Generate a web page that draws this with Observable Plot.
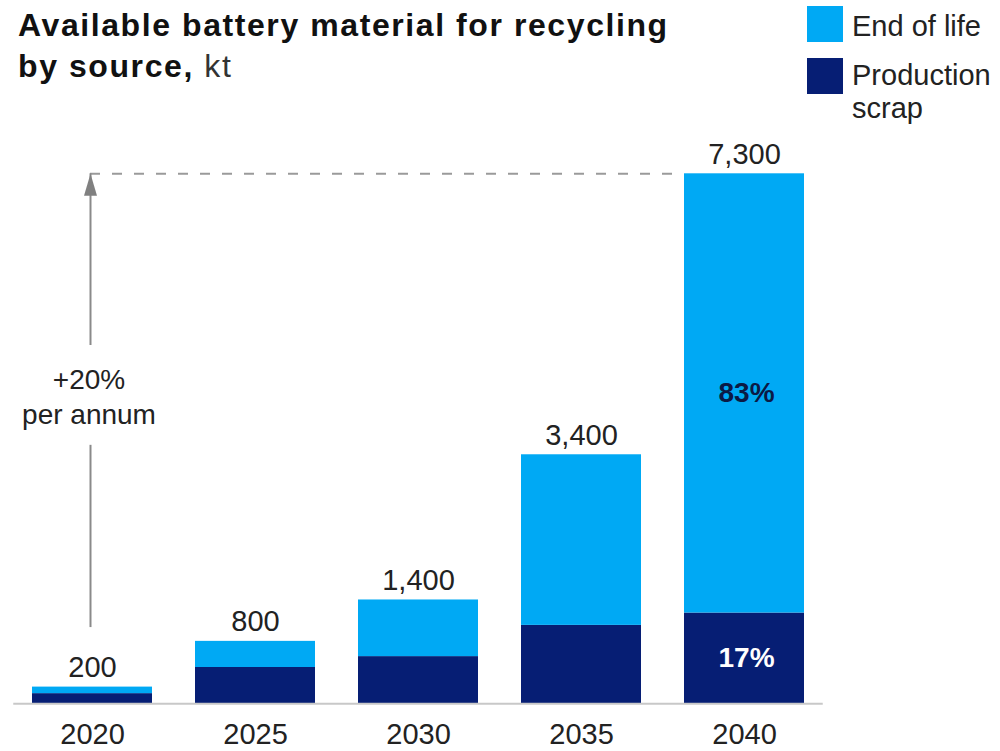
<!DOCTYPE html>
<html>
<head>
<meta charset="utf-8">
<script src="https://cdn.jsdelivr.net/npm/d3@7"></script>
<script src="https://cdn.jsdelivr.net/npm/@observablehq/plot@0.6"></script>
<style>
  html, body { margin: 0; padding: 0; background: #fff; }
  #wrap { width: 1000px; height: 751px; position: relative; overflow: hidden; }
  #header { position: relative; width: 1000px; height: 130px; }
  #title { position: absolute; left: 18px; top: 5px; font-family: "Liberation Sans", Arial, sans-serif;
           font-weight: 700; font-size: 32px; line-height: 41px; color: #111; white-space: nowrap; }
  #title .unit { font-weight: 400; color: #333; }
  .leg { position: absolute; left: 807px; font-family: "Liberation Sans", Arial, sans-serif; font-size: 29px; line-height: 33px; color: #222; }
  .sw { position: absolute; width: 36px; height: 36px; left: 0; }
  .lt { position: absolute; left: 45px; white-space: nowrap; }
</style>
</head>
<body>
<div id="wrap">
  <div id="header">
    <div id="title"></div>
    <div id="legend"></div>
  </div>
  <div id="chart"></div>
</div>
<script>
// ---- data ----
const years = ["2020", "2025", "2030", "2035", "2040"];
const productionScrap = [140, 500, 650, 1080, 1250];
const endOfLife = [90, 360, 780, 2350, 6050];
const totalLabels = ["200", "800", "1,400", "3,400", "7,300"];
const sources = ["Production scrap", "End of life"];
const legendLabels = ["End of life", "Production\nscrap"];
const colors = ["#061e74", "#00a9f4"];
const shareYear = "2040";
const shareLabels = ["17%", "83%"]; // Production scrap, End of life
const growthLabel = "+20%\nper annum";
const titleText = "Available battery material for recycling\nby source,";
const unitText = "kt";

// ---- header ----
const titleEl = document.getElementById("title");
const lines = titleText.split("\n");
titleEl.innerHTML = lines[0] + "<br>" + lines[1] + ' <span class="unit">' + unitText + "</span>";
// fit first title line to the reference width via letter spacing
(function fitTitle() {
  const target = 649;
  const c = document.createElement("canvas").getContext("2d");
  c.font = 'bold 32px "Liberation Sans", Arial, sans-serif';
  const w = c.measureText(lines[0]).width;
  const ls = (target - w) / (lines[0].length - 1);
  if (isFinite(ls) && Math.abs(ls) < 3) titleEl.style.letterSpacing = ls.toFixed(2) + "px";
})();

const legendEl = document.getElementById("legend");
const legendOrder = ["End of life", "Production scrap"];
const legendTops = [6, 58];
legendOrder.forEach((s, i) => {
  const item = document.createElement("div");
  item.className = "leg";
  item.style.top = legendTops[i] + "px";
  const sw = document.createElement("div");
  sw.className = "sw";
  sw.style.background = colors[sources.indexOf(s)];
  sw.style.top = "0px";
  const t = document.createElement("div");
  t.className = "lt";
  t.style.top = (i === 0 ? 4 : 1) + "px";
  t.innerHTML = legendLabels[i].replace("\n", "<br>");
  item.appendChild(sw);
  item.appendChild(t);
  legendEl.appendChild(item);
});

// ---- tables ----
const rows = years.flatMap((year, i) => [
  {year, source: sources[0], value: productionScrap[i]},
  {year, source: sources[1], value: endOfLife[i]}
]);
const totals = years.map((year, i) => ({year, total: productionScrap[i] + endOfLife[i], label: totalLabels[i]}));
const si = years.indexOf(shareYear);
const shareScrap = [{year: shareYear, y: productionScrap[si] / 2, label: shareLabels[0]}];
const shareEol = [{year: shareYear, y: productionScrap[si] + endOfLife[si] / 2, label: shareLabels[1]}];
const maxTotal = d3.max(totals, d => d.total);

// annotation anchors (kt)
const arrowUpperFrom = 4935;
const arrowLowerFrom = 1050;
const arrowLowerTo = 3560;
const growthAt = 4246;

const arrowHead = {
  draw(context) {
    context.moveTo(0, 0);
    context.lineTo(6.5, 22);
    context.lineTo(-6.5, 22);
    context.closePath();
  }
};

const chart = Plot.plot({
  width: 1000,
  height: 621,
  marginTop: 43.3,
  marginBottom: 47.7,
  marginLeft: 9.25,
  marginRight: 173.25,
  x: {domain: years, paddingInner: 0.266, paddingOuter: 0.133},
  y: {domain: [0, maxTotal], axis: null},
  color: {domain: sources, range: colors},
  style: {fontFamily: '"Liberation Sans", Arial, sans-serif', color: "#222", background: "white", overflow: "visible"},
  marks: [
    Plot.barY(rows, {x: "year", y: "value", fill: "source", order: sources}),
    Plot.ruleY([0], {stroke: "#c8c8c8", strokeWidth: 2, insetLeft: 4, insetRight: 4}),
    Plot.axisX({tickSize: 0, tickPadding: 20, fontSize: 29, label: null}),
    Plot.text(totals, {x: "year", y: "total", text: "label", lineAnchor: "bottom", dy: -10, fontSize: 29, fill: "#222"}),
    Plot.text(shareScrap, {x: "year", y: "y", text: "label", fill: "white", fontWeight: "bold", fontSize: 28, dx: 2}),
    Plot.text(shareEol, {x: "year", y: "y", text: "label", fill: "#0b1a45", fontWeight: "bold", fontSize: 28, dx: 2}),
    // dashed guide at 2040 total
    Plot.ruleY([maxTotal], {x1: () => years[0], x2: () => shareYear, stroke: "#9a9a9a", strokeWidth: 2, strokeDasharray: "10,12", insetLeft: 58, insetRight: 120}),
    // growth arrow
    Plot.ruleX([years[0]], {y1: arrowUpperFrom, y2: maxTotal, stroke: "#8a8a8a", strokeWidth: 2, dx: -2}),
    Plot.ruleX([years[0]], {y1: arrowLowerFrom, y2: arrowLowerTo, stroke: "#8a8a8a", strokeWidth: 2, dx: -2}),
    Plot.dot([{year: years[0], y: maxTotal}], {x: "year", y: "y", symbol: arrowHead, fill: "#808080", stroke: "none", r: 5, dx: -2}),
    Plot.text([{year: years[0], y: growthAt, label: growthLabel}], {x: "year", y: "y", text: "label", fontSize: 28, lineHeight: 1.25, fill: "#222", dx: -3.5})
  ]
});
document.getElementById("chart").appendChild(chart);
</script>
</body>
</html>
